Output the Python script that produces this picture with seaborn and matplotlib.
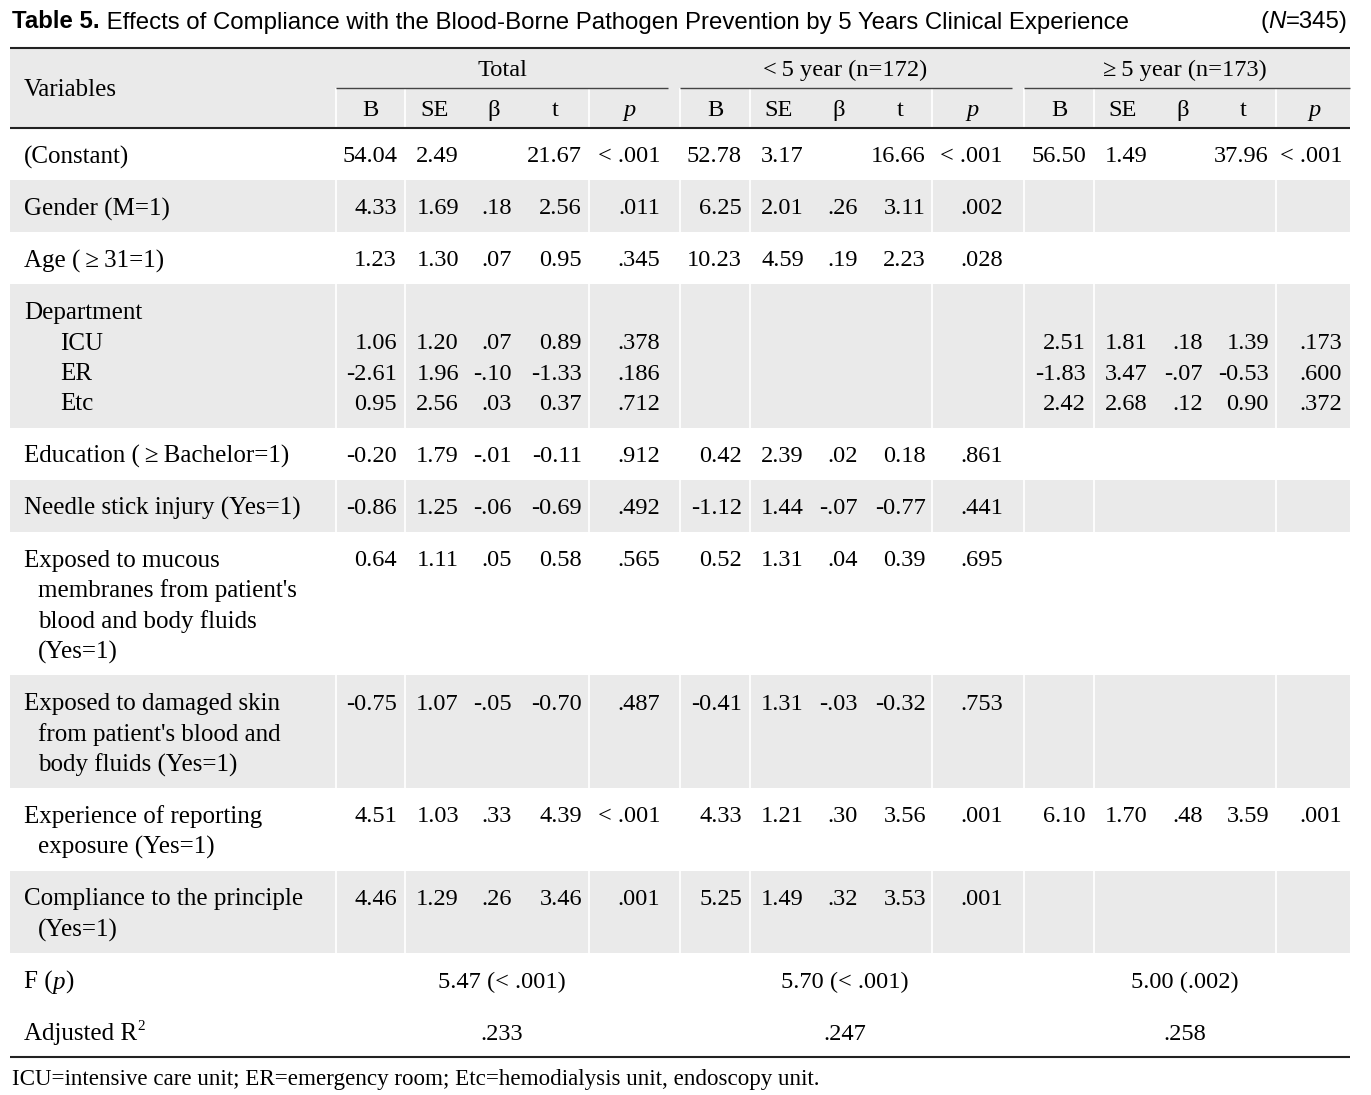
import matplotlib
matplotlib.use("Agg")
import matplotlib.pyplot as plt
import seaborn as sns

# ---- table content ----
title_bold = "Table 5."
title_rest = (" Effects of Compliance with the Blood-Borne Pathogen Prevention"
              " by 5 Years Clinical Experience")
groups = ["Total", "<\u20095 year (n=172)", "\u2265\u20095 year (n=173)"]
stats = ["B", "SE", "\u03b2", "t", "p"]

var_labels = [
    ["(Constant)"],
    ["Gender (M=1)"],
    ["Age (\u2009\u2265\u200931=1)"],
    ["Department", "ICU", "ER", "Etc"],
    ["Education (\u2009\u2265\u2009Bachelor=1)"],
    ["Needle stick injury (Yes=1)"],
    ["Exposed to mucous", "membranes from patient's", "blood and body fluids", "(Yes=1)"],
    ["Exposed to damaged skin", "from patient's blood and", "body fluids (Yes=1)"],
    ["Experience of reporting", "exposure (Yes=1)"],
    ["Compliance to the principle", "(Yes=1)"],
]
sub_items = ["ICU", "ER", "Etc"]

# (variable index, line index) for each value row
value_slots = [(0, 0), (1, 0), (2, 0), (3, 1), (3, 2), (3, 3),
               (4, 0), (5, 0), (6, 0), (7, 0), (8, 0), (9, 0)]

vals_total = [
    ["54.04", "2.49", "", "21.67", "< .001"],
    ["4.33", "1.69", ".18", "2.56", ".011"],
    ["1.23", "1.30", ".07", "0.95", ".345"],
    ["1.06", "1.20", ".07", "0.89", ".378"],
    ["-2.61", "1.96", "-.10", "-1.33", ".186"],
    ["0.95", "2.56", ".03", "0.37", ".712"],
    ["-0.20", "1.79", "-.01", "-0.11", ".912"],
    ["-0.86", "1.25", "-.06", "-0.69", ".492"],
    ["0.64", "1.11", ".05", "0.58", ".565"],
    ["-0.75", "1.07", "-.05", "-0.70", ".487"],
    ["4.51", "1.03", ".33", "4.39", "< .001"],
    ["4.46", "1.29", ".26", "3.46", ".001"],
]
vals_lt5 = [
    ["52.78", "3.17", "", "16.66", "< .001"],
    ["6.25", "2.01", ".26", "3.11", ".002"],
    ["10.23", "4.59", ".19", "2.23", ".028"],
    None, None, None,
    ["0.42", "2.39", ".02", "0.18", ".861"],
    ["-1.12", "1.44", "-.07", "-0.77", ".441"],
    ["0.52", "1.31", ".04", "0.39", ".695"],
    ["-0.41", "1.31", "-.03", "-0.32", ".753"],
    ["4.33", "1.21", ".30", "3.56", ".001"],
    ["5.25", "1.49", ".32", "3.53", ".001"],
]
vals_ge5 = [
    ["56.50", "1.49", "", "37.96", "< .001"],
    None, None,
    ["2.51", "1.81", ".18", "1.39", ".173"],
    ["-1.83", "3.47", "-.07", "-0.53", ".600"],
    ["2.42", "2.68", ".12", "0.90", ".372"],
    None, None, None, None,
    ["6.10", "1.70", ".48", "3.59", ".001"],
    None,
]
f_values = ["5.47 (< .001)", "5.70 (< .001)", "5.00 (.002)"]
r2_values = [".233", ".247", ".258"]
footnote = "ICU=intensive care unit; ER=emergency room; Etc=hemodialysis unit, endoscopy unit."

# ---- layout (pixel space) ----
LEFT, RIGHT = 10, 1350
HEAD_TOP, HEAD_MID, HEAD_BOT = 48, 88, 128
ROW_H, LINE_H = 52, 30.5
TXT_OFF = 29
GRAY = "#eaeaea"
LINE = "#222222"
group_centers = [502, 845, 1185]
group_spans = [(336, 668), (680, 1012), (1024, 1350)]
stat_centers = [[370, 435, 494, 555, 630],
                [715, 779, 839, 900, 973],
                [1059, 1123, 1183, 1243, 1315]]
right_edges = [[397, 459, 512, 582, 660],
               [742, 804, 858, 926, 1003],
               [1086, 1148, 1203, 1269, 1342]]
dividers = [336, 405, 589, 680, 750, 932, 1024, 1094, 1276]

sns.set_theme(style="white")
plt.rcParams["font.family"] = ["Liberation Serif", "DejaVu Serif"]
plt.rcParams["text.color"] = "black"
SERIF = ["Liberation Serif", "DejaVu Serif"]
SANS = ["Liberation Sans", "DejaVu Sans"]
FS = 17.6
FS_LAB = 18.0
FS_TITLE = 17.3

fig = plt.figure(figsize=(13.71, 10.95), dpi=100)
ax = fig.add_axes([0, 0, 1, 1])
ax.set_xlim(0, 1371)
ax.set_ylim(1095, 0)
ax.axis("off")


def chain(x, y, pieces, size, family):
    prev = ax.text(x, y, pieces[0][0], va="center", ha="left", fontsize=size,
                   family=family, **pieces[0][1])
    for s, extra in pieces[1:]:
        prev = ax.annotate(s, xy=(1, 0), xycoords=prev, va="bottom", ha="left",
                           fontsize=size, family=family, **extra)


# title
chain(12, 22, [(title_bold, {"weight": "bold"}), (title_rest, {})], FS_TITLE, SANS)
t = ax.text(1348, 22, "=345)", ha="right", va="center", fontsize=FS_TITLE, family=SANS)
n = ax.annotate("N", xy=(0, 0), xycoords=t, ha="right", va="bottom",
                fontsize=FS_TITLE, family=SANS, style="italic")
ax.annotate("(", xy=(0, 0), xycoords=n, ha="right", va="bottom",
            fontsize=FS_TITLE, family=SANS)

# row bands
heights = [ROW_H + LINE_H * (len(lab) - 1) for lab in var_labels] + [ROW_H, ROW_H]
tops = [HEAD_BOT]
for h in heights[:-1]:
    tops.append(tops[-1] + h)
shaded = [i for i in range(len(var_labels)) if i % 2 == 1]
ax.barh([HEAD_TOP + (HEAD_BOT - HEAD_TOP) / 2], [RIGHT - LEFT], left=LEFT,
        height=HEAD_BOT - HEAD_TOP, color=GRAY, linewidth=0)
ax.barh([tops[i] + heights[i] / 2 for i in shaded], [RIGHT - LEFT] * len(shaded),
        left=LEFT, height=[heights[i] for i in shaded], color=GRAY, linewidth=0)
ax.vlines(dividers, HEAD_MID, tops[10], color="white", lw=1.3)

# rules
ax.hlines([HEAD_TOP, HEAD_BOT], LEFT, RIGHT, color=LINE, lw=1.5)
ax.hlines(tops[-1] + heights[-1], LEFT, RIGHT, color=LINE, lw=1.5)
for a, b in group_spans:
    ax.hlines(HEAD_MID, a, b, color="#444444", lw=1.0)

# header
ax.text(24, HEAD_MID + 2.5, "Variables", va="center", ha="left", fontsize=FS_LAB)
for g, cx in enumerate(group_centers):
    ax.text(cx, 70.5, groups[g], va="center", ha="center", fontsize=FS)
    for j, s in enumerate(stats):
        ax.text(stat_centers[g][j], 110.5, s, va="center", ha="center", fontsize=FS,
                style="italic" if s == "p" else "normal")

# variable labels
for i, lines in enumerate(var_labels):
    for k, s in enumerate(lines):
        x = 60 if s in sub_items else (24 if k == 0 else 38)
        ax.text(x, tops[i] + TXT_OFF + k * LINE_H, s, va="center", ha="left",
                fontsize=FS_LAB)

# values
for g, vals in enumerate([vals_total, vals_lt5, vals_ge5]):
    for r, row in enumerate(vals):
        if row is None:
            continue
        vi, li = value_slots[r]
        y = tops[vi] + TXT_OFF + li * LINE_H
        for j, s in enumerate(row):
            if s:
                ax.text(right_edges[g][j], y, s, va="center", ha="right", fontsize=FS)

# model fit rows
yf = tops[10] + TXT_OFF
yr = tops[11] + TXT_OFF
chain(24, yf, [("F (", {}), ("p", {"style": "italic"}), (")", {})], FS_LAB, SERIF)
adj = ax.text(24, yr, "Adjusted R", va="center", ha="left", fontsize=FS_LAB)
ax.annotate("2", xy=(1, 0.55), xycoords=adj, va="bottom", ha="left", fontsize=11)
for g, cx in enumerate(group_centers):
    ax.text(cx, yf, f_values[g], va="center", ha="center", fontsize=FS)
    ax.text(cx, yr, r2_values[g], va="center", ha="center", fontsize=FS)

ax.text(12, 1079, footnote, va="center", ha="left", fontsize=16.6)

fig.savefig("out.png", dpi=100)
